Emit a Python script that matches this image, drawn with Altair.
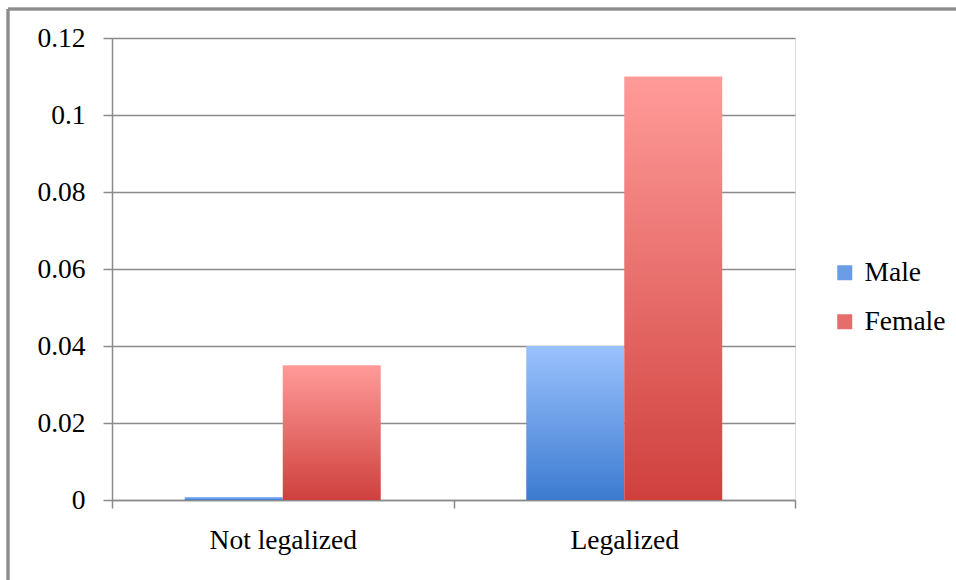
import altair as alt
import pandas as pd

# Share of respondents, by legal status and gender
categories = ["Not legalized", "Legalized"]
male = [0.0008, 0.04]
female = [0.035, 0.11]
genders = ["Male", "Female"]

rows = []
for i, cat in enumerate(categories):
    rows.append({"Status": cat, "Gender": "Male", "Value": male[i]})
    rows.append({"Status": cat, "Gender": "Female", "Value": female[i]})
df = pd.DataFrame(rows)

FONT = "Liberation Serif"
GRID = "#8a8a8a"
FS = 27.5

blue_grad = alt.LinearGradient(
    gradient="linear", x1=0, y1=0, x2=0, y2=1,
    stops=[alt.GradientStop(offset=0, color="#9ac2fd"),
           alt.GradientStop(offset=1, color="#3c7bd0")],
)
red_grad = alt.LinearGradient(
    gradient="linear", x1=0, y1=0, x2=0, y2=1,
    stops=[alt.GradientStop(offset=0, color="#ff9b99"),
           alt.GradientStop(offset=1, color="#cf403d")],
)

x_enc = alt.X(
    "Status:N",
    sort=categories,
    title=None,
    scale=alt.Scale(paddingInner=0, paddingOuter=0),
    axis=alt.Axis(
        labelAngle=0, tickBand="extent", grid=False,
        domainColor=GRID, domainWidth=1.5, tickColor=GRID, tickWidth=1.5,
        tickSize=8, labelPadding=18, labelFontSize=FS, labelFont=FONT,
        labelColor="#000000",
    ),
)

y_enc = alt.Y(
    "Value:Q",
    title=None,
    scale=alt.Scale(domain=[0, 0.12], nice=False),
    axis=alt.Axis(
        values=[0, 0.02, 0.04, 0.06, 0.08, 0.1, 0.12], format=".2~f",
        grid=True, gridColor=GRID, gridWidth=1.5,
        domainColor=GRID, domainWidth=1.5, tickColor=GRID, tickWidth=1.5,
        tickSize=9, labelPadding=18, labelFontSize=FS, labelFont=FONT,
        labelColor="#000000",
    ),
)

bars = alt.Chart(df).mark_bar().encode(
    x=x_enc,
    xOffset=alt.XOffset(
        "Gender:N", sort=genders,
        scale=alt.Scale(domain=genders, paddingInner=0, paddingOuter=0.7425),
    ),
    y=y_enc,
    fill=alt.condition("datum.Gender === 'Male'", alt.value(blue_grad), alt.value(red_grad)),
)

# Legend-only layer: invisible points that carry the gender colour scale
legend_layer = alt.Chart(df).mark_square(opacity=0).encode(
    x=alt.value(0),
    y=alt.value(0),
    color=alt.Color(
        "Gender:N",
        sort=genders,
        scale=alt.Scale(domain=genders, range=["#6a9de6", "#e56e6c"]),
        legend=alt.Legend(
            title=None, orient="none", legendX=719, legendY=221,
            symbolType="square", symbolSize=225, symbolStrokeWidth=0,
            symbolOpacity=1,
            labelFont=FONT, labelFontSize=FS, labelColor="#000000",
            labelOffset=6, rowPadding=20, padding=0,
        ),
    ),
)

# Outer chart frame (top and left edges)
frame_top = alt.Chart(df).mark_rule(color="#8c8c8c", strokeWidth=2.5).encode(
    x=alt.value(-104), x2=alt.value(860), y=alt.value(-29)
)
frame_left = alt.Chart(df).mark_rule(color="#8c8c8c", strokeWidth=2.5).encode(
    x=alt.value(-104), y=alt.value(-29), y2=alt.value(560)
)

chart = (
    alt.layer(bars, legend_layer, frame_top, frame_left)
    .properties(
        width=683,
        height=462,
        autosize=alt.AutoSizeParams(type="none"),
        padding={"left": 112, "top": 38, "right": 161, "bottom": 80},
    )
    .configure_view(stroke=None)
    .configure_legend(labelFont=FONT, labelFontSize=FS, labelColor="#000000")
    .configure(background="#ffffff", font=FONT)
)

chart.save("out.html", embed_options={"renderer": "svg", "actions": False})
